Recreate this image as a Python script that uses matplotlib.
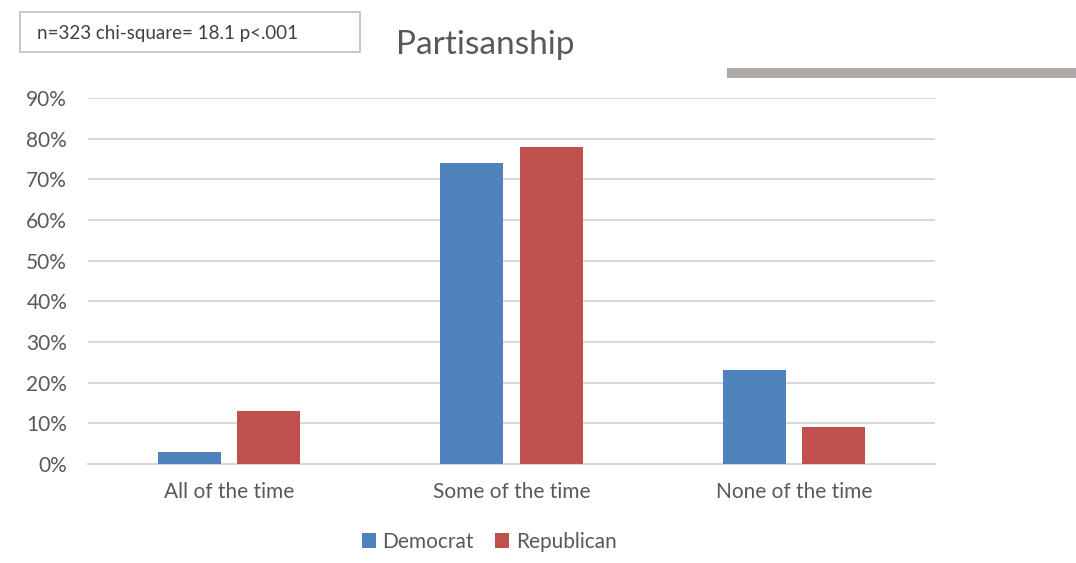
import matplotlib
matplotlib.use("Agg")
import matplotlib.pyplot as plt
from matplotlib.patches import Rectangle
from matplotlib.ticker import PercentFormatter

categories = ["All of the time", "Some of the time", "None of the time"]
democrat = [0.03, 0.74, 0.23]
republican = [0.13, 0.78, 0.09]
series_names = ["Democrat", "Republican"]
yticks = [0.0, 0.1, 0.2, 0.3, 0.4, 0.5, 0.6, 0.7, 0.8, 0.9]
stats_note = "n=323 chi-square= 18.1 p<.001"
title = "Partisanship"

plt.rcParams["font.family"] = ["Lato", "DejaVu Sans"]
text_color = "#595959"
blue = "#4F81BD"
red = "#C0504D"
grid_color = "#D9D9D9"

W, H = 1076, 563
fig = plt.figure(figsize=(W / 100, H / 100), dpi=100)
ax = fig.add_axes([88 / W, 1 - 464 / H, (935 - 88) / W, (464 - 98) / H])

x = list(range(len(categories)))
bw = 0.223
off = 0.141
ax.bar([i - off for i in x], democrat, width=bw, color=blue, label=series_names[0], zorder=3)
ax.bar([i + off for i in x], republican, width=bw, color=red, label=series_names[1], zorder=3)

ax.set_xlim(-0.5, len(categories) - 0.5)
ax.set_ylim(0, 0.9)
ax.set_yticks(yticks)
ax.yaxis.set_major_formatter(PercentFormatter(1.0, decimals=0))
ax.set_xticks(x)
ax.set_xticklabels(categories)
ax.grid(axis="y", color=grid_color, linewidth=1.5, zorder=0)
for s in ["top", "right", "left"]:
    ax.spines[s].set_visible(False)
ax.spines["bottom"].set_color(grid_color)
ax.spines["bottom"].set_linewidth(1.5)
ax.tick_params(axis="both", length=0, labelsize=15, labelcolor=text_color)
ax.tick_params(axis="y", pad=15)
ax.tick_params(axis="x", pad=13)

leg = ax.legend(loc="center", bbox_to_anchor=(489 / W, 1 - 542 / H), bbox_transform=fig.transFigure,
                ncol=2, frameon=False, fontsize=15, handlelength=0.7, handleheight=0.7,
                handletextpad=0.3, columnspacing=1.0, labelcolor=text_color)

fig.text(485 / W, 1 - 45 / H, title, ha="center", va="center", fontsize=24, color=text_color)

fig.add_artist(Rectangle((20 / W, 1 - 52 / H), 340 / W, 40 / H, transform=fig.transFigure,
                         facecolor="white", edgecolor="#BFBFBF", linewidth=1.2))
fig.text(37 / W, 1 - 33 / H, stats_note, ha="left", va="center", fontsize=13.5, color="#404040")

fig.add_artist(Rectangle((727 / W, 1 - 78 / H), (1076 - 727) / W, 10 / H, transform=fig.transFigure,
                         facecolor="#ADA9A7", edgecolor="none"))

fig.savefig("out.png", dpi=100)
